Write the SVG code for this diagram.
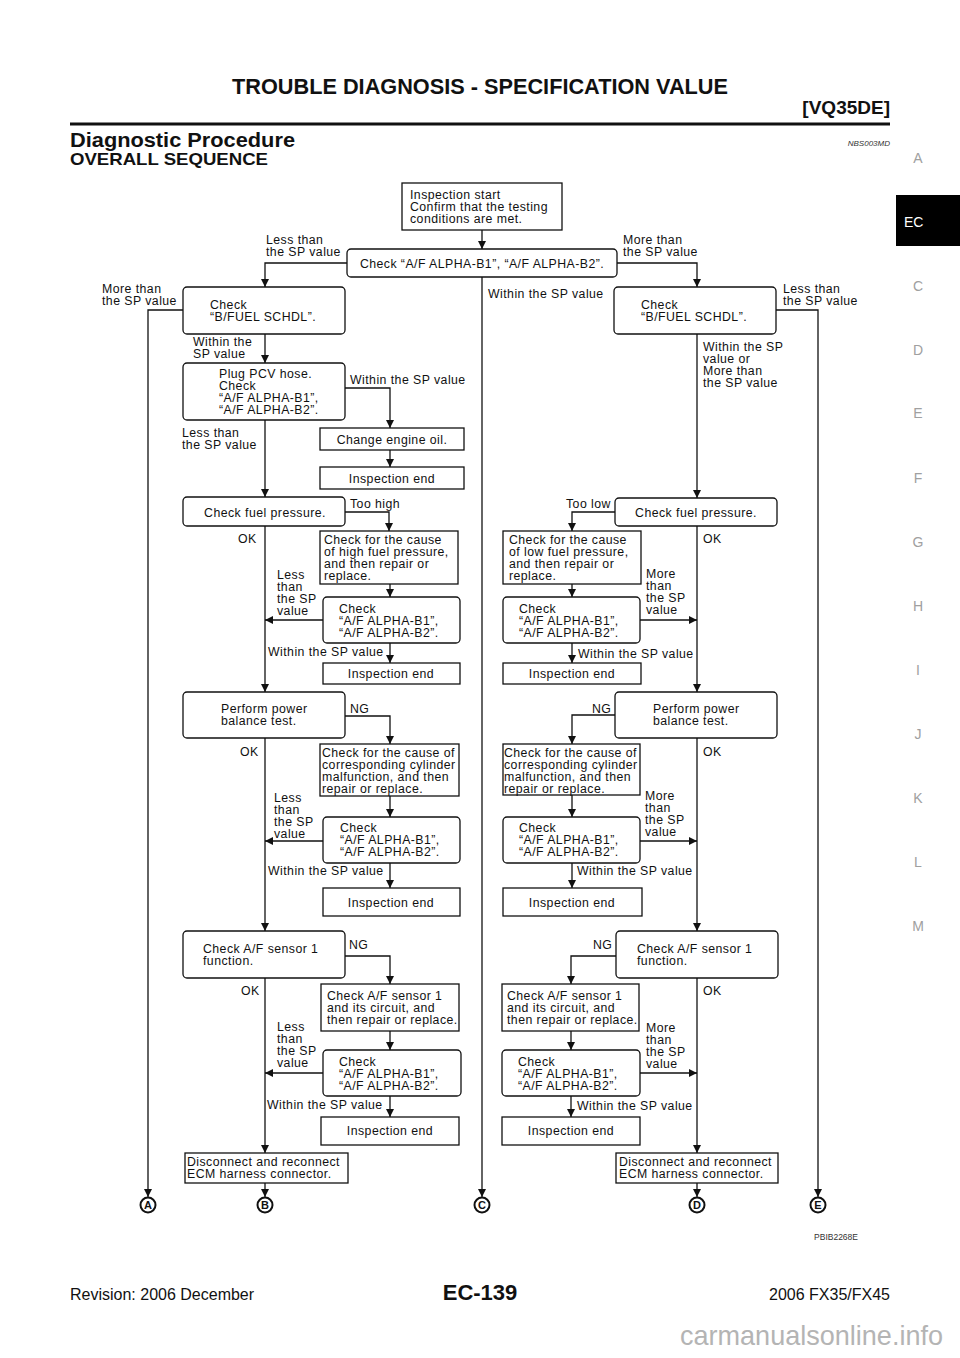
<svg xmlns="http://www.w3.org/2000/svg" width="960" height="1358" viewBox="0 0 960 1358">
<defs>
<marker id="ah" markerUnits="userSpaceOnUse" markerWidth="9" markerHeight="8" refX="8" refY="4" orient="auto">
<path d="M0,0 L8,4 L0,8 z" fill="#111"/>
</marker>
<style>
.t{font-family:"Liberation Sans",Arial,sans-serif;font-size:12.3px;letter-spacing:0.45px;fill:#111}
.c{text-anchor:middle}
.bx{fill:#fff;stroke:#111;stroke-width:1.3}
.ln{fill:none;stroke:#111;stroke-width:1.3;marker-end:url(#ah)}
.tab{font-family:"Liberation Sans",Arial,sans-serif;font-size:14px;fill:#a0a0a0;text-anchor:middle}
.cir{fill:#fff;stroke:#111;stroke-width:2}
.cl{font-family:"Liberation Sans",Arial,sans-serif;font-size:11px;font-weight:bold;fill:#111;text-anchor:middle}
.hd{font-family:"Liberation Sans",Arial,sans-serif;font-weight:bold;fill:#111}
</style>
</defs>
<rect width="960" height="1358" fill="#fff"/>

<g id="header">
<text class="hd" x="480" y="94" font-size="22" text-anchor="middle" textLength="496" lengthAdjust="spacingAndGlyphs">TROUBLE DIAGNOSIS - SPECIFICATION VALUE</text>
<text class="hd" x="890" y="114" font-size="19" text-anchor="end">[VQ35DE]</text>
<rect x="70" y="122.5" width="820" height="3" fill="#111"/>
<text class="hd" x="70" y="147" font-size="20" textLength="225" lengthAdjust="spacingAndGlyphs">Diagnostic Procedure</text>
<text x="890" y="146" font-family="Liberation Sans,Arial,sans-serif" font-size="8" font-style="italic" fill="#333" text-anchor="end">NBS003MD</text>
<text class="hd" x="70" y="165" font-size="17" textLength="198" lengthAdjust="spacingAndGlyphs">OVERALL SEQUENCE</text>
</g>

<g id="tabs">
<text class="tab" x="918" y="163">A</text>
<rect x="896" y="195" width="64" height="51" fill="#000"/>
<text x="904" y="227" font-family="Liberation Sans,Arial,sans-serif" font-size="14" fill="#fff">EC</text>
<text class="tab" x="918" y="291">C</text>
<text class="tab" x="918" y="355">D</text>
<text class="tab" x="918" y="418">E</text>
<text class="tab" x="918" y="483">F</text>
<text class="tab" x="918" y="547">G</text>
<text class="tab" x="918" y="611">H</text>
<text class="tab" x="918" y="675">I</text>
<text class="tab" x="918" y="739">J</text>
<text class="tab" x="918" y="803">K</text>
<text class="tab" x="918" y="867">L</text>
<text class="tab" x="918" y="931">M</text>
</g>

<g id="connectors">
<path class="ln" d="M482,230 V249"/>
<path class="ln" d="M347,263 H265 V287"/>
<path class="ln" d="M617,263 H697 V287"/>
<path class="ln" d="M482,277 V1197"/>
<path class="ln" d="M183,310 H148 V1197"/>
<path class="ln" d="M776,310 H818 V1197"/>
<path class="ln" d="M265,334 V363"/>
<path class="ln" d="M345,388 H390 V428"/>
<path class="ln" d="M390,450 V467"/>
<path class="ln" d="M265,420 V497"/>
<path class="ln" d="M697,334 V498"/>
<path class="ln" d="M345,512 H389 V531"/>
<path class="ln" d="M390,584 V597"/>
<path class="ln" d="M323,620 H265"/>
<path class="ln" d="M390,643 V663"/>
<path class="ln" d="M265,526 V692"/>
<path class="ln" d="M345,716 H390 V744"/>
<path class="ln" d="M390,796 V817"/>
<path class="ln" d="M323,841 H265"/>
<path class="ln" d="M390,863 V888"/>
<path class="ln" d="M265,738 V931"/>
<path class="ln" d="M345,956 H390 V984"/>
<path class="ln" d="M390,1031 V1050"/>
<path class="ln" d="M323,1073 H265"/>
<path class="ln" d="M390,1096 V1117"/>
<path class="ln" d="M265,978 V1153"/>
<path class="ln" d="M265,1183 V1197"/>
<path class="ln" d="M615,512 H572 V531"/>
<path class="ln" d="M572,584 V597"/>
<path class="ln" d="M640,620 H697"/>
<path class="ln" d="M572,643 V663"/>
<path class="ln" d="M697,526 V692"/>
<path class="ln" d="M615,715 H572 V744"/>
<path class="ln" d="M572,795 V817"/>
<path class="ln" d="M640,841 H697"/>
<path class="ln" d="M572,863 V888"/>
<path class="ln" d="M697,738 V931"/>
<path class="ln" d="M616,956 H571 V984"/>
<path class="ln" d="M571,1031 V1050"/>
<path class="ln" d="M640,1073 H697"/>
<path class="ln" d="M571,1096 V1117"/>
<path class="ln" d="M697,978 V1153"/>
<path class="ln" d="M697,1183 V1197"/>
</g>

<g id="labels">
<text class="t" x="266" y="244">Less than</text>
<text class="t" x="266" y="256">the SP value</text>
<text class="t" x="623" y="244">More than</text>
<text class="t" x="623" y="256">the SP value</text>
<text class="t" x="102" y="293">More than</text>
<text class="t" x="102" y="305">the SP value</text>
<text class="t" x="488" y="297.5">Within the SP value</text>
<text class="t" x="783" y="293">Less than</text>
<text class="t" x="783" y="305">the SP value</text>
<text class="t" x="193" y="345.5">Within the</text>
<text class="t" x="193" y="357.5">SP value</text>
<text class="t" x="350" y="384">Within the SP value</text>
<text class="t" x="182" y="436.5">Less than</text>
<text class="t" x="182" y="448.5">the SP value</text>
<text class="t" x="703" y="351">Within the SP</text>
<text class="t" x="703" y="363">value or</text>
<text class="t" x="703" y="375">More than</text>
<text class="t" x="703" y="387">the SP value</text>
<text class="t" x="350" y="507.5">Too high</text>
<text class="t" x="566" y="507.5">Too low</text>
<text class="t" x="238" y="543">OK</text>
<text class="t" x="703" y="543">OK</text>
<text class="t" x="277" y="579">Less</text>
<text class="t" x="277" y="591">than</text>
<text class="t" x="277" y="603">the SP</text>
<text class="t" x="277" y="615">value</text>
<text class="t" x="646" y="578">More</text>
<text class="t" x="646" y="590">than</text>
<text class="t" x="646" y="602">the SP</text>
<text class="t" x="646" y="614">value</text>
<text class="t" x="268" y="656">Within the SP value</text>
<text class="t" x="578" y="657.5">Within the SP value</text>
<text class="t" x="350" y="712.5">NG</text>
<text class="t" x="592" y="712.5">NG</text>
<text class="t" x="240" y="756">OK</text>
<text class="t" x="703" y="756">OK</text>
<text class="t" x="274" y="801.5">Less</text>
<text class="t" x="274" y="813.5">than</text>
<text class="t" x="274" y="825.5">the SP</text>
<text class="t" x="274" y="837.5">value</text>
<text class="t" x="645" y="800">More</text>
<text class="t" x="645" y="812">than</text>
<text class="t" x="645" y="824">the SP</text>
<text class="t" x="645" y="836">value</text>
<text class="t" x="268" y="875">Within the SP value</text>
<text class="t" x="577" y="875">Within the SP value</text>
<text class="t" x="349" y="949">NG</text>
<text class="t" x="593" y="949">NG</text>
<text class="t" x="241" y="995">OK</text>
<text class="t" x="703" y="995">OK</text>
<text class="t" x="277" y="1031">Less</text>
<text class="t" x="277" y="1043">than</text>
<text class="t" x="277" y="1055">the SP</text>
<text class="t" x="277" y="1067">value</text>
<text class="t" x="646" y="1032">More</text>
<text class="t" x="646" y="1044">than</text>
<text class="t" x="646" y="1056">the SP</text>
<text class="t" x="646" y="1068">value</text>
<text class="t" x="267" y="1109">Within the SP value</text>
<text class="t" x="577" y="1110">Within the SP value</text>
</g>

<g id="n-start"><rect class="bx" x="402" y="183" width="160" height="47"/>
<text class="t" x="410" y="199">Inspection start</text><text class="t" x="410" y="211">Confirm that the testing</text><text class="t" x="410" y="223">conditions are met.</text></g>
<g id="n-check"><rect class="bx" x="347" y="249" width="270" height="28" rx="4"/>
<text class="t c" x="482" y="267.5">Check “A/F ALPHA-B1”, “A/F ALPHA-B2”.</text></g>

<g id="n-bfuel-l"><rect class="bx" x="183" y="287" width="162" height="47" rx="4"/>
<text class="t" x="210" y="309">Check</text><text class="t" x="210" y="321">“B/FUEL SCHDL”.</text></g>
<g id="n-bfuel-r"><rect class="bx" x="614" y="287" width="162" height="47" rx="4"/>
<text class="t" x="641" y="309">Check</text><text class="t" x="641" y="321">“B/FUEL SCHDL”.</text></g>

<g id="n-pcv"><rect class="bx" x="183" y="363" width="162" height="57" rx="4"/>
<text class="t" x="219" y="378">Plug PCV hose.</text><text class="t" x="219" y="390">Check</text><text class="t" x="219" y="402">“A/F ALPHA-B1”,</text><text class="t" x="219" y="414">“A/F ALPHA-B2”.</text></g>
<g id="n-oil"><rect class="bx" x="320" y="428" width="144" height="22"/>
<text class="t c" x="392" y="443.5">Change engine oil.</text></g>
<g id="n-end0"><rect class="bx" x="320" y="467" width="144" height="22"/>
<text class="t c" x="392" y="482.5">Inspection end</text></g>

<g id="n-fuel-l"><rect class="bx" x="183" y="497" width="162" height="29" rx="4"/>
<text class="t c" x="265" y="516.5">Check fuel pressure.</text></g>
<g id="n-fuel-r"><rect class="bx" x="615" y="498" width="162" height="28" rx="4"/>
<text class="t c" x="696" y="516.5">Check fuel pressure.</text></g>

<g id="n-high"><rect class="bx" x="320" y="531" width="138" height="53"/>
<text class="t" x="324" y="543.5">Check for the cause</text><text class="t" x="324" y="555.5">of high fuel pressure,</text><text class="t" x="324" y="567.5">and then repair or</text><text class="t" x="324" y="579.5">replace.</text></g>
<g id="n-low"><rect class="bx" x="503" y="531" width="138" height="53"/>
<text class="t" x="509" y="543.5">Check for the cause</text><text class="t" x="509" y="555.5">of low fuel pressure,</text><text class="t" x="509" y="567.5">and then repair or</text><text class="t" x="509" y="579.5">replace.</text></g>

<g id="n-chk-l1"><rect class="bx" x="323" y="597" width="137" height="46" rx="4"/>
<text class="t" x="339" y="612.5">Check</text><text class="t" x="339" y="624.5">“A/F ALPHA-B1”,</text><text class="t" x="339" y="636.5">“A/F ALPHA-B2”.</text></g>
<g id="n-chk-r1"><rect class="bx" x="503" y="597" width="137" height="46" rx="4"/>
<text class="t" x="519" y="612.5">Check</text><text class="t" x="519" y="624.5">“A/F ALPHA-B1”,</text><text class="t" x="519" y="636.5">“A/F ALPHA-B2”.</text></g>
<g id="n-end-l1"><rect class="bx" x="323" y="663" width="137" height="21"/>
<text class="t c" x="391" y="678">Inspection end</text></g>
<g id="n-end-r1"><rect class="bx" x="503" y="663" width="138" height="21"/>
<text class="t c" x="572" y="678">Inspection end</text></g>

<g id="n-pwr-l"><rect class="bx" x="183" y="692" width="162" height="46" rx="4"/>
<text class="t" x="221" y="713">Perform power</text><text class="t" x="221" y="725">balance test.</text></g>
<g id="n-pwr-r"><rect class="bx" x="615" y="692" width="162" height="46" rx="4"/>
<text class="t" x="653" y="713">Perform power</text><text class="t" x="653" y="725">balance test.</text></g>

<g id="n-cyl-l"><rect class="bx" x="320" y="744" width="139" height="52"/>
<text class="t" x="322" y="756.5">Check for the cause of</text><text class="t" x="322" y="768.5">corresponding cylinder</text><text class="t" x="322" y="780.5">malfunction, and then</text><text class="t" x="322" y="792.5">repair or replace.</text></g>
<g id="n-cyl-r"><rect class="bx" x="503" y="744" width="137" height="51"/>
<text class="t" x="504" y="756.5">Check for the cause of</text><text class="t" x="504" y="768.5">corresponding cylinder</text><text class="t" x="504" y="780.5">malfunction, and then</text><text class="t" x="504" y="792.5">repair or replace.</text></g>

<g id="n-chk-l2"><rect class="bx" x="323" y="817" width="137" height="46" rx="4"/>
<text class="t" x="340" y="831.5">Check</text><text class="t" x="340" y="843.5">“A/F ALPHA-B1”,</text><text class="t" x="340" y="855.5">“A/F ALPHA-B2”.</text></g>
<g id="n-chk-r2"><rect class="bx" x="503" y="817" width="137" height="46" rx="4"/>
<text class="t" x="519" y="831.5">Check</text><text class="t" x="519" y="843.5">“A/F ALPHA-B1”,</text><text class="t" x="519" y="855.5">“A/F ALPHA-B2”.</text></g>
<g id="n-end-l2"><rect class="bx" x="323" y="888" width="137" height="28"/>
<text class="t c" x="391" y="907">Inspection end</text></g>
<g id="n-end-r2"><rect class="bx" x="503" y="888" width="139" height="28"/>
<text class="t c" x="572" y="907">Inspection end</text></g>

<g id="n-sen-l"><rect class="bx" x="183" y="931" width="162" height="47" rx="4"/>
<text class="t" x="203" y="953">Check A/F sensor 1</text><text class="t" x="203" y="965">function.</text></g>
<g id="n-sen-r"><rect class="bx" x="616" y="931" width="162" height="47" rx="4"/>
<text class="t" x="637" y="953">Check A/F sensor 1</text><text class="t" x="637" y="965">function.</text></g>

<g id="n-cir-l"><rect class="bx" x="321" y="984" width="138" height="47"/>
<text class="t" x="327" y="1000">Check A/F sensor 1</text><text class="t" x="327" y="1012">and its circuit, and</text><text class="t" x="327" y="1024">then repair or replace.</text></g>
<g id="n-cir-r"><rect class="bx" x="502" y="984" width="137" height="47"/>
<text class="t" x="507" y="1000">Check A/F sensor 1</text><text class="t" x="507" y="1012">and its circuit, and</text><text class="t" x="507" y="1024">then repair or replace.</text></g>

<g id="n-chk-l3"><rect class="bx" x="323" y="1050" width="138" height="46" rx="4"/>
<text class="t" x="339" y="1066">Check</text><text class="t" x="339" y="1078">“A/F ALPHA-B1”,</text><text class="t" x="339" y="1090">“A/F ALPHA-B2”.</text></g>
<g id="n-chk-r3"><rect class="bx" x="502" y="1050" width="138" height="46" rx="4"/>
<text class="t" x="518" y="1066">Check</text><text class="t" x="518" y="1078">“A/F ALPHA-B1”,</text><text class="t" x="518" y="1090">“A/F ALPHA-B2”.</text></g>
<g id="n-end-l3"><rect class="bx" x="321" y="1117" width="138" height="28"/>
<text class="t c" x="390" y="1135">Inspection end</text></g>
<g id="n-end-r3"><rect class="bx" x="502" y="1117" width="138" height="28"/>
<text class="t c" x="571" y="1135">Inspection end</text></g>

<g id="n-disc-l"><rect class="bx" x="185" y="1153" width="163" height="30"/>
<text class="t" x="187" y="1165.5">Disconnect and reconnect</text><text class="t" x="187" y="1177.5">ECM harness connector.</text></g>
<g id="n-disc-r"><rect class="bx" x="616" y="1153" width="162" height="30"/>
<text class="t" x="619" y="1165.5">Disconnect and reconnect</text><text class="t" x="619" y="1177.5">ECM harness connector.</text></g>

<g id="n-A"><circle class="cir" cx="148" cy="1205" r="7.5"/><text class="cl" x="148" y="1209">A</text></g>
<g id="n-B"><circle class="cir" cx="265" cy="1205" r="7.5"/><text class="cl" x="265" y="1209">B</text></g>
<g id="n-C"><circle class="cir" cx="482" cy="1205" r="7.5"/><text class="cl" x="482" y="1209">C</text></g>
<g id="n-D"><circle class="cir" cx="697" cy="1205" r="7.5"/><text class="cl" x="697" y="1209">D</text></g>
<g id="n-E"><circle class="cir" cx="818" cy="1205" r="7.5"/><text class="cl" x="818" y="1209">E</text></g>

<g id="footer">
<text x="858" y="1240" font-family="Liberation Sans,Arial,sans-serif" font-size="8.5" fill="#333" text-anchor="end">PBIB2268E</text>
<text x="70" y="1300" font-family="Liberation Sans,Arial,sans-serif" font-size="16" fill="#111">Revision: 2006 December</text>
<text class="hd" x="480" y="1300" font-size="22" text-anchor="middle">EC-139</text>
<text x="890" y="1300" font-family="Liberation Sans,Arial,sans-serif" font-size="16" fill="#111" text-anchor="end">2006 FX35/FX45</text>
<text x="680" y="1345" font-family="Liberation Sans,Arial,sans-serif" font-size="28" fill="#b4b4b4" textLength="263" lengthAdjust="spacingAndGlyphs">carmanualsonline.info</text>
</g>
</svg>
